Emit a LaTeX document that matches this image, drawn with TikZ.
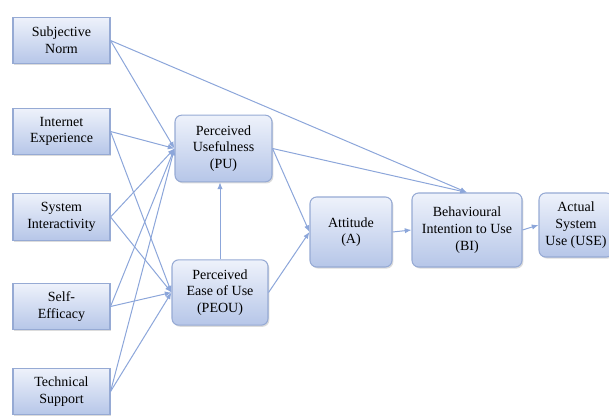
\documentclass[tikz,border=0pt]{standalone}
\usepackage{fontspec}
\setmainfont{Liberation Serif}
\usepackage{tikz}
\usetikzlibrary{
    arrows.meta, positioning, shadows
}
\definecolor{boxtop}{RGB}{238,242,251}
\definecolor{boxbot}{RGB}{182,198,232}
\definecolor{boxline}{RGB}{150,170,212}
\definecolor{arrline}{RGB}{140,166,218}
\tikzset{
  comp/.style={rectangle, draw=boxline, line width=0.8pt,
               top color=boxtop, bottom color=boxbot,
               align=center, inner sep=2pt,
               font=\fontsize{10.5}{12.5}\selectfont,
               drop shadow={shadow xshift=1pt, shadow yshift=-1.2pt,
                            fill=black!30, opacity=0.45}},
  factor/.style={comp, minimum width=72.75pt, minimum height=35pt},
  construct/.style={comp, rounded corners=5pt},
  arr/.style={-{Latex[length=5pt, width=4pt]}, draw=arrline, line width=0.75pt},
}

\begin{document}
\begin{tikzpicture}[x=0.75pt, y=-0.75pt]

  \useasboundingbox (0,0) rectangle (609,416);

  % external variables
  \node[factor] (sn) at (61.5,40.5)  {Subjective\\Norm};
  \node[factor] (ie) at (61.5,131.5) {Internet\\Experience};
  \node[factor] (si) at (61.5,217)   {System\\Interactivity};
  \node[factor] (se) at (61.5,306.5) {Self-\\Efficacy};
  \node[factor] (ts) at (61.5,391.5) {Technical\\Support};

  % TAM constructs
  \node[construct, minimum width=72.75pt, minimum height=50pt] (pu) at (223.5,148.5)
    {Perceived\\Usefulness\\(PU)};
  \node[construct, minimum width=72pt, minimum height=49pt] (peou) at (220,292.5)
    {Perceived\\Ease of Use\\(PEOU)};
  \node[construct, minimum width=61.5pt, minimum height=52.5pt] (att) at (351,232)
    {Attitude\\(A)};
  \node[construct, minimum width=82.5pt, minimum height=55.5pt] (bi) at (467,230)
    {Behavioural\\Intention to Use\\(BI)};
  \node[construct, minimum width=55.5pt, minimum height=48pt] (use) at (576,225)
    {Actual\\System\\Use (USE)};

  % links
  \draw[arr] (sn.east) -- (pu.west);
  \draw[arr] (sn.east) -- (bi.north);
  \foreach \src in {ie, si, se, ts} {
    \draw[arr] (\src.east) -- (pu.west);
    \draw[arr] (\src.east) -- (peou.west);
  }
  \draw[arr] (peou.north) -- (peou.north |- pu.south);
  \draw[arr] (pu.east) -- (bi.north);
  \draw[arr] (pu.east) -- (att.west);
  \draw[arr] (peou.east) -- (att.west);
  \draw[arr] (att.east) -- (bi.west);
  \draw[arr] (bi.east) -- (use.west);

\end{tikzpicture}
\end{document}
